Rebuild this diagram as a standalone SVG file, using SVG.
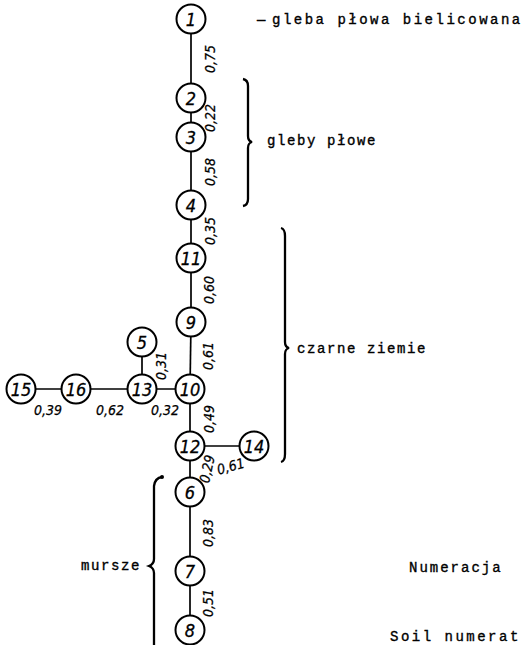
<svg xmlns="http://www.w3.org/2000/svg" width="522" height="645" viewBox="0 0 522 645">
<style>
.n circle{fill:#fff;stroke:#000;stroke-width:2}
.n text{font-family:"Liberation Sans Narrow","DejaVu Sans Condensed","Liberation Sans",sans-serif;font-style:italic;font-size:18px;text-anchor:middle;fill:#000;stroke:#000;stroke-width:0.3}
.e line{stroke:#000;stroke-width:1.7}
.el{font-family:"Liberation Sans Narrow","DejaVu Sans Condensed","Liberation Sans",sans-serif;font-style:italic;font-size:14px;text-anchor:middle;fill:#000;stroke:#000;stroke-width:0.25}
.t{font-family:"Liberation Mono","DejaVu Sans Mono",monospace;font-size:14px;letter-spacing:1.6px;fill:#000;stroke:#000;stroke-width:0.35}
.br{fill:none;stroke:#000;stroke-width:2.3}
</style>
<rect width="522" height="645" fill="#fff"/>
<g id="connectors" class="e">
<line x1="191" y1="19" x2="191" y2="98"/>
<line x1="191" y1="98" x2="191" y2="137"/>
<line x1="191" y1="137" x2="191" y2="205"/>
<line x1="191" y1="205" x2="191" y2="258"/>
<line x1="191" y1="258" x2="191" y2="322"/>
<line x1="191" y1="322" x2="190" y2="389"/>
<line x1="190" y1="389" x2="190" y2="446"/>
<line x1="190" y1="446" x2="190" y2="492"/>
<line x1="190" y1="492" x2="190" y2="571"/>
<line x1="190" y1="571" x2="190" y2="645"/>
<line x1="142" y1="389" x2="190" y2="389"/>
<line x1="142" y1="389" x2="142" y2="342"/>
<line x1="76" y1="389" x2="142" y2="389"/>
<line x1="21" y1="389" x2="76" y2="389"/>
<line x1="190" y1="446" x2="254" y2="446"/>
</g>
<g id="edge-labels">
<text class="el" transform="translate(215,59) rotate(-90)">0,75</text>
<text class="el" transform="translate(215,118) rotate(-90)">0,22</text>
<text class="el" transform="translate(215,172) rotate(-90)">0,58</text>
<text class="el" transform="translate(215,231) rotate(-90)">0,35</text>
<text class="el" transform="translate(214,290) rotate(-90)">0,60</text>
<text class="el" transform="translate(213,356) rotate(-90)">0,61</text>
<text class="el" transform="translate(166,366) rotate(-90)">0,31</text>
<text class="el" transform="translate(214,419) rotate(-90)">0,49</text>
<text class="el" transform="translate(212,470) rotate(-78)">0,29</text>
<text class="el" transform="translate(232,471) rotate(-15)">0,61</text>
<text class="el" transform="translate(213,533) rotate(-90)">0,83</text>
<text class="el" transform="translate(213,603) rotate(-90)">0,51</text>
<text class="el" x="48" y="415">0,39</text>
<text class="el" x="110" y="415">0,62</text>
<text class="el" x="165" y="415">0,32</text>
</g>
<g id="n1" class="n"><circle cx="191" cy="19" r="14.5"/><text x="191" y="25.5">1</text></g>
<g id="n2" class="n"><circle cx="191" cy="98" r="14.5"/><text x="191" y="104.5">2</text></g>
<g id="n3" class="n"><circle cx="191" cy="137" r="14.5"/><text x="191" y="143.5">3</text></g>
<g id="n4" class="n"><circle cx="191" cy="205" r="14.5"/><text x="191" y="211.5">4</text></g>
<g id="n11" class="n"><circle cx="191" cy="258" r="14.5"/><text x="191" y="264.5">11</text></g>
<g id="n9" class="n"><circle cx="191" cy="322" r="14.5"/><text x="191" y="328.5">9</text></g>
<g id="n10" class="n"><circle cx="190" cy="389" r="14.5"/><text x="190" y="395.5">10</text></g>
<g id="n13" class="n"><circle cx="142" cy="389" r="14.5"/><text x="142" y="395.5">13</text></g>
<g id="n5" class="n"><circle cx="142" cy="342" r="14.5"/><text x="142" y="348.5">5</text></g>
<g id="n16" class="n"><circle cx="76" cy="389" r="14.5"/><text x="76" y="395.5">16</text></g>
<g id="n15" class="n"><circle cx="21" cy="389" r="14.5"/><text x="21" y="395.5">15</text></g>
<g id="n12" class="n"><circle cx="190" cy="446" r="14.5"/><text x="190" y="452.5">12</text></g>
<g id="n14" class="n"><circle cx="254" cy="446" r="14.5"/><text x="254" y="452.5">14</text></g>
<g id="n6" class="n"><circle cx="190" cy="492" r="14.5"/><text x="190" y="498.5">6</text></g>
<g id="n7" class="n"><circle cx="190" cy="571" r="14.5"/><text x="190" y="577.5">7</text></g>
<g id="n8" class="n"><circle cx="190" cy="630" r="14.5"/><text x="190" y="636.5">8</text></g>
<g id="braces">
<path class="br" d="M243 79 Q248 80 248 86 L248 136 Q248 141 252 142 Q248 143 248 148 L248 199 Q248 205 243 206"/>
<path class="br" d="M281 228 Q285 229 285 236 L285 342 Q285 347 289 348 Q285 349 285 354 L285 454 Q285 461 281 462"/>
<path class="br" d="M162 477 Q155 478 154 486 L154 559 Q154 564 149 566 Q154 568 154 573 L154 645"/>
<circle cx="162" cy="477" r="2" fill="#000"/>
</g>
<g id="texts">
<text class="t" x="257" y="24" letter-spacing="0">—</text>
<text class="t" x="272" y="24" style="letter-spacing:2.5px">gleba płowa bielicowana</text>
<text class="t" x="267" y="145">gleby płowe</text>
<text class="t" x="297" y="353">czarne ziemie</text>
<text class="t" x="141" y="570" text-anchor="end">mursze</text>
<text class="t" x="409" y="572" style="letter-spacing:2px">Numeracja</text>
<text class="t" x="390" y="641" style="letter-spacing:2.5px">Soil numerat</text>
</g>
</svg>
